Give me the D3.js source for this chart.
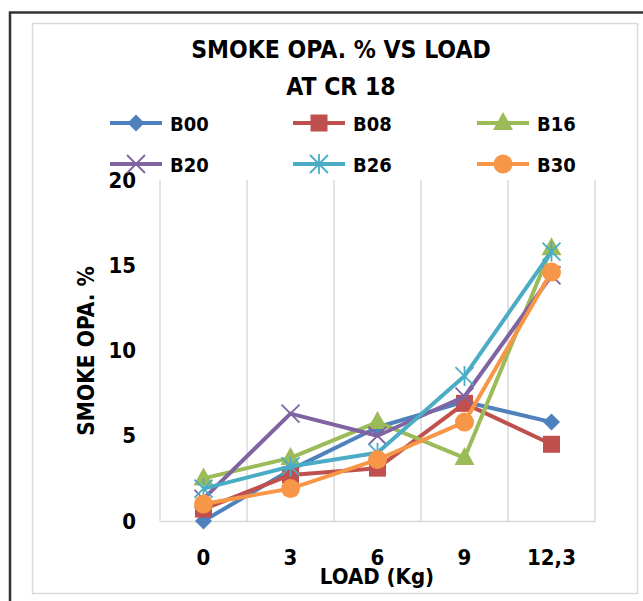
<!DOCTYPE html>
<html>
<head>
<meta charset="utf-8">
<script src="https://cdn.jsdelivr.net/npm/d3@7"></script>
<style>
  body { margin: 0; background: #fff; }
  svg { display: block; }
  text { font-family: "DejaVu Sans Condensed", "DejaVu Sans", sans-serif; font-weight: bold; fill: #000; }
</style>
</head>
<body>
<svg id="theSvg"></svg>
<script>
// chart data
const loads = ["0", "3", "6", "9", "12,3"];
const seriesNames = ["B00", "B08", "B16", "B20", "B26", "B30"];
const b00 = [0.0, 3.0, 5.5, 7.0, 5.8];
const b08 = [0.7, 2.7, 3.1, 6.9, 4.5];
const b16 = [2.5, 3.7, 5.8, 3.7, 16.0];
const b20 = [1.3, 6.3, 5.0, 7.3, 14.4];
const b26 = [1.9, 3.2, 4.0, 8.5, 15.8];
const b30 = [1.0, 1.9, 3.6, 5.8, 14.6];
const yTicks = [0, 5, 10, 15, 20];

const width = 643, height = 601;
const margin = {top: 180, right: 48, bottom: 80, left: 160};
const colours = ["#4F81BD", "#C0504D", "#9BBB59", "#8064A2", "#4BACC6", "#F79646"];
const symbols = ["diamond", "square", "triangle", "cross", "star", "circle"];
const allSeries = [b00, b08, b16, b20, b26, b30];

const svg = d3.select("#theSvg")
  .attr("width", width)
  .attr("height", height);

// frames
svg.append("path")
  .attr("d", "M10,601 V12.5 H643")
  .attr("fill", "none")
  .attr("stroke", "#333")
  .attr("stroke-width", 2.5);
svg.append("rect")
  .attr("x", 32.5).attr("y", 23.5)
  .attr("width", 605).attr("height", 570)
  .attr("fill", "none")
  .attr("stroke", "#d9d9d9")
  .attr("stroke-width", 1.5);

const x = d3.scaleBand()
  .domain(loads)
  .range([margin.left, width - margin.right]);

const y = d3.scaleLinear()
  .domain([0, 20])
  .range([height - margin.bottom, margin.top]);

// vertical grid lines at band edges
const edges = loads.map(d => x(d)).concat([x(loads[loads.length - 1]) + x.bandwidth()]);
svg.append("g").attr("class", "grid")
  .selectAll("line")
  .data(edges)
  .join("line")
  .attr("x1", d => d).attr("x2", d => d)
  .attr("y1", y(20)).attr("y2", y(0))
  .attr("stroke", "#d9d9d9")
  .attr("stroke-width", 1.5);

// x axis
svg.append("g").attr("class", "xAxis")
  .attr("transform", "translate(0," + y(0) + ")")
  .call(d3.axisBottom(x).tickSize(0).tickPadding(28))
  .call(g => g.select(".domain").attr("stroke", "#d9d9d9").attr("stroke-width", 1.5))
  .call(g => g.selectAll("text").attr("font-size", 22).attr("font-family", null));

// y axis
svg.append("g").attr("class", "yAxis")
  .attr("transform", "translate(" + margin.left + ",0)")
  .call(d3.axisLeft(y).tickValues(yTicks).tickSize(0).tickPadding(24))
  .call(g => g.select(".domain").remove())
  .call(g => g.selectAll("text").attr("font-size", 22).attr("font-family", null));

// titles
svg.append("text")
  .attr("x", 341).attr("y", 58)
  .attr("text-anchor", "middle")
  .attr("font-size", 24.5)
  .text("SMOKE OPA. % VS LOAD");
svg.append("text")
  .attr("x", 341).attr("y", 95)
  .attr("text-anchor", "middle")
  .attr("font-size", 24.5)
  .text("AT CR 18");
svg.append("text")
  .attr("x", 377).attr("y", 584)
  .attr("text-anchor", "middle")
  .attr("font-size", 22)
  .text("LOAD (Kg)");
svg.append("text")
  .attr("transform", "translate(94,351) rotate(-90)")
  .attr("text-anchor", "middle")
  .attr("font-size", 22.5)
  .text("SMOKE OPA. %");

function marker(sel, kind, colour) {
  if (kind === "diamond") {
    sel.append("path").attr("d", "M0,-8.5 L8.5,0 L0,8.5 L-8.5,0 Z")
      .attr("fill", colour);
  } else if (kind === "square") {
    sel.append("rect").attr("x", -8.5).attr("y", -8.5).attr("width", 17).attr("height", 17)
      .attr("fill", colour);
  } else if (kind === "triangle") {
    sel.append("path").attr("d", "M0,-11 L10,7 L-10,7 Z").attr("fill", colour);
  } else if (kind === "circle") {
    sel.append("circle").attr("r", 9.5).attr("fill", colour);
  } else if (kind === "cross") {
    sel.append("path").attr("d", "M-9,-9 L9,9 M-9,9 L9,-9")
      .attr("stroke", colour).attr("stroke-width", 1.8).attr("fill", "none");
  } else if (kind === "star") {
    sel.append("path").attr("d", "M-9,-9 L9,9 M-9,9 L9,-9 M0,-10 V10")
      .attr("stroke", colour).attr("stroke-width", 1.8).attr("fill", "none");
  }
}

const line = d3.line()
  .x((d, i) => x(loads[i]) + x.bandwidth() / 2)
  .y(d => y(d));

const plot = svg.append("g").attr("class", "mainGroup");
allSeries.forEach(function(vals, k) {
  const g = plot.append("g");
  g.append("path")
    .attr("d", line(vals))
    .attr("fill", "none")
    .attr("stroke", colours[k])
    .attr("stroke-width", 4)
    .attr("stroke-linejoin", "round");
  vals.forEach(function(v, i) {
    const m = g.append("g")
      .attr("transform", "translate(" + (x(loads[i]) + x.bandwidth() / 2) + "," + y(v) + ")");
    marker(m, symbols[k], colours[k]);
  });
});

// legend
const legX = [110, 293, 477];
const legY = [123, 164];
seriesNames.forEach(function(name, k) {
  const lx = legX[k % 3], ly = legY[Math.floor(k / 3)];
  const g = svg.append("g").attr("class", "legend");
  g.append("line")
    .attr("x1", lx).attr("x2", lx + 52)
    .attr("y1", ly).attr("y2", ly)
    .attr("stroke", colours[k]).attr("stroke-width", 4);
  const m = g.append("g").attr("transform", "translate(" + (lx + 26) + "," + ly + ")");
  marker(m, symbols[k], colours[k]);
  g.append("text")
    .attr("x", lx + 60).attr("y", ly + 8)
    .attr("font-size", 20)
    .text(name);
});
</script>
</body>
</html>
